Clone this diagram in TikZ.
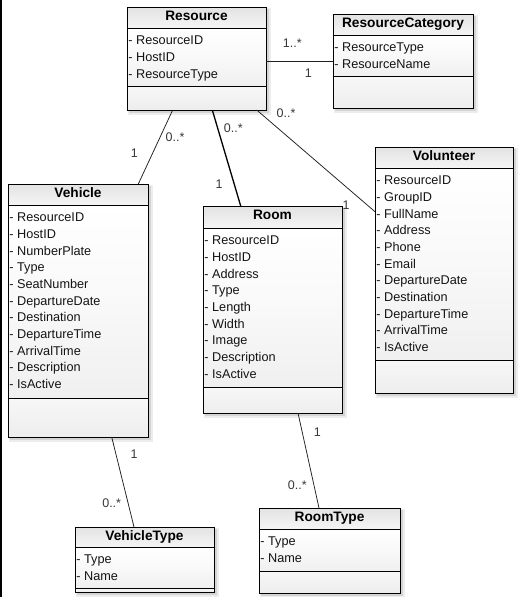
\documentclass[tikz,border=0pt]{standalone}
\usepackage{fontspec}
\setmainfont{Liberation Sans}
\usetikzlibrary{calc}
\tikzset{
  x=1pt, y=-1pt,
  boxframe/.style={draw=black, line width=1pt, inner sep=0pt, outer sep=0pt},
  divline/.style={line width=0.9pt, draw=black},
  ctitle/.style={font=\fontsize{13.7}{16}\selectfont\bfseries, anchor=base, inner sep=0pt},
  cattr/.style={font=\fontsize{12.7}{16}\selectfont, text=black!92, anchor=base west, inner sep=0pt},
  mult/.style={font=\fontsize{12.5}{15}\selectfont, text=black!78, inner sep=0pt},
  assoc/.style={line width=0.75pt, draw=black!88},
}
% #1 name, #2 x1, #3 y1, #4 x2, #5 y2, #6 title divider, #7 attribute divider, #8 title, #9 attributes
\newcommand\umlclass[9]{%
  \fill[black, opacity=0.07] (#2+1,#3+1) rectangle (#4+4.5,#5+4.5);
  \fill[black, opacity=0.10] (#2+2,#3+2) rectangle (#4+3,#5+3);
  \shade[top color=gray!22, bottom color=gray!8] (#2,#3) rectangle (#4,#6);
  \shade[top color=white, bottom color=gray!12, middle color=gray!5] (#2,#6) rectangle (#4,#7);
  \shade[top color=gray!6, bottom color=gray!14] (#2,#7) rectangle (#4,#5);
  \draw[divline] (#2,#6) -- (#4,#6);
  \draw[divline] (#2,#7) -- (#4,#7);
  \node[boxframe, minimum width={(#4-#2)*1pt}, minimum height={(#5-#3)*1pt}] (#1) at ({(#2+#4)/2},{(#3+#5)/2}) {};
  \node[ctitle] (#1-t) at ({(#2+#4)/2},#3+13.4) {#8};
  \foreach \a [count=\i] in {#9} {\node[cattr] (#1-a\i) at (#2+1.2,{#6+16.8+(\i-1)*16.67}) {- \a};}
}
\begin{document}
\begin{tikzpicture}
\useasboundingbox (0,0) rectangle (518,597);
\fill[white] (0,0) rectangle (518,597);
\draw[line width=1.5pt] (0.75,0) -- (0.75,597);

\umlclass{res}{127}{7}{266}{110}{28}{86}{Resource}{ResourceID,HostID,ResourceType}
\umlclass{cat}{333}{14}{473}{108}{35}{76}{ResourceCategory}{ResourceType,ResourceName}
\umlclass{veh}{8}{184}{148}{437}{205}{398}{Vehicle}{ResourceID,HostID,NumberPlate,Type,SeatNumber,DepartureDate,Destination,DepartureTime,ArrivalTime,Description,IsActive}
\umlclass{room}{203}{206}{342}{413}{228}{387}{Room}{ResourceID,HostID,Address,Type,Length,Width,Image,Description,IsActive}
\umlclass{vol}{375}{147}{513}{393}{168}{360}{Volunteer}{ResourceID,GroupID,FullName,Address,Phone,Email,DepartureDate,Destination,DepartureTime,ArrivalTime,IsActive}
\umlclass{vt}{75}{527}{214}{592}{547}{588}{VehicleType}{Type,Name}
\umlclass{rt}{259}{508}{400}{593}{529}{571}{RoomType}{Type,Name}

% associations
\draw[assoc] ($(res.north east)+(0,54)$) -- ($(cat.north west)+(0,47)$);
\draw[assoc] ($(res.south west)+(45.7,0)$) -- ($(veh.north west)+(130.3,0)$);
\draw[assoc, line width=1.3pt, draw=black] ($(res.south west)+(85.3,0)$) -- ($(room.north west)+(37.7,0)$);
\draw[assoc] ($(res.south west)+(129.7,0)$) -- ($(vol.north west)+(0,64.7)$);
\draw[assoc] ($(veh.south west)+(103.7,0)$) -- ($(vt.north west)+(59,0)$);
\draw[assoc] ($(room.south west)+(95,0)$) -- ($(rt.north west)+(60,0)$);

% multiplicities
\node[mult] (m1) at (292.3,43.3) {1..*};
\node[mult] (m2) at (308.3,72.7) {1};
\node[mult] (m3) at (175,136.7) {0..*};
\node[mult] (m4) at (134.3,153.3) {1};
\node[mult] (m5) at (233.3,128.3) {0..*};
\node[mult] (m6) at (219,184) {1};
\node[mult] (m7) at (286,113.3) {0..*};
\node[mult] (m8) at (346,205) {1};
\node[mult] (m9) at (134,454) {1};
\node[mult] (m10) at (111.7,502.7) {0..*};
\node[mult] (m11) at (317.3,431.7) {1};
\node[mult] (m12) at (297.3,485) {0..*};
\end{tikzpicture}
\end{document}
